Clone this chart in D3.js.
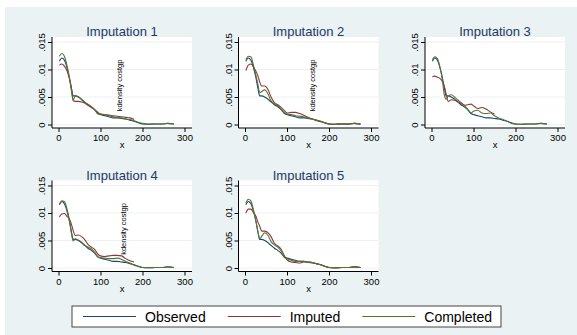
<!DOCTYPE html>
<html><head><meta charset="utf-8">
<script src="https://cdn.jsdelivr.net/npm/d3@7"></script>
<style>body{margin:0;background:#fff}svg{display:block}text{font-family:"Liberation Sans",Arial,sans-serif}</style>
</head><body><svg id="c" width="577" height="335"></svg>
<script>
const panelTitles = ["Imputation 1","Imputation 2","Imputation 3","Imputation 4","Imputation 5"];
const xTicks = [0,100,200,300];
const yTicks = [0,0.005,0.01,0.015];
const yTickLabels = ["0",".005",".01",".015"];
const seriesNames = ["Observed","Imputed","Completed"];
const seriesColors = ["#1a476f","#90353b","#55752f"];
const strayNote = "kdensity costgp";
const notePanels = [true,true,false,true,false];

const xs = [2,8,14,20,26,31,35,40,47,55,62,70,78,86,94,100,110,120,130,140,150,160,170,180,190,200,215,230,245,260,275];
const observed = [.0115,.0121,.0117,.0104,.0085,.0065,.0052,.0052,.0050,.0046,.0041,.0036,.0032,.0027,.0020,.0018,.0016,.0014,.0012,.0012,.0011,.0010,.0008,.0006,.0003,.0001,.00005,.0001,.0001,.0002,.0001];

const completed1 = [.0124,.0129,.0124,.0108,.0085,.0060,.0045,.0052,.0051,.0045,.0040,.0037,.0033,.0027,.0019,.0019,.0018,.0016,.0014,.0013,.0012,.0010,.0009,.0007,.0004,.0002,.0001,.0001,.0001,.0002,.0001];
const completed2 = [.0118,.0124,.0123,.0108,.0090,.0072,.0058,.0060,.0063,.0055,.0043,.0038,.0034,.0028,.0021,.0019,.0018,.0016,.0015,.0014,.0012,.0010,.0008,.0006,.0003,.0001,.00005,.0001,.0001,.0002,.0001];
const completed3 = [.0118,.0123,.0120,.0105,.0080,.0052,.0046,.0052,.0054,.0050,.0045,.0040,.0035,.0028,.0021,.0024,.0026,.0021,.0020,.0021,.0016,.0012,.0009,.0006,.0002,.0001,.00005,.0001,.0001,.0002,.0001];
const completed4 = [.0115,.0122,.0121,.0108,.0087,.0062,.0049,.0053,.0051,.0047,.0042,.0038,.0035,.0029,.0020,.0019,.0018,.0017,.0017,.0018,.0016,.0012,.0009,.0005,.0003,.0001,.00005,.0001,.0001,.0002,.0001];
const completed5 = [.0118,.0125,.0122,.0106,.0085,.0065,.0053,.0058,.0064,.0059,.0048,.0042,.0038,.0031,.0019,.0017,.0014,.0012,.0012,.0012,.0011,.0010,.0008,.0006,.0003,.0001,.00005,.0001,.0001,.0002,.0001];

const imputed1 = [.0108,.0110,.0106,.0098,.0083,.0065,.0043,.0042,.0042,.0041,.0039,.0035,.0031,.0027,.0022,.0019,.0018,.0017,.0016,.0015,.0014,.0013,.0012,.0009];
const imputed2 = [.0098,.0108,.0110,.0105,.0097,.0088,.0077,.0070,.0070,.0063,.0050,.0040,.0036,.0031,.0025,.0021,.0022,.0022,.0020,.0017,.0013,.0010,.0007,.0005,.0003,.0001,.00005,.0001,.0001,.0002,.0001];
const imputed3 = [.0087,.0088,.0086,.0084,.0078,.0068,.0055,.0042,.0045,.0044,.0042,.0038,.0035,.0036,.0037,.0034,.0029,.0031,.0028,.0023,.0019];
const imputed4 = [.0093,.0098,.0099,.0094,.0089,.0079,.0068,.0059,.0060,.0057,.0052,.0043,.0038,.0034,.0025,.0022,.0021,.0022,.0023,.0023,.0022,.0017,.0013,.0011];
const imputed5 = [.0100,.0107,.0107,.0101,.0094,.0083,.0076,.0067,.0067,.0064,.0057,.0045,.0040,.0034,.0022,.0015,.0011,.0010,.0009,.0011,.0010,.0009,.0008,.0006,.0003,.0001,.00002,.0001,.0001,.0002,.0001];

const completedAll = [completed1,completed2,completed3,completed4,completed5];
const imputedAll = [imputed1,imputed2,imputed3,imputed4,imputed5];

const svg = d3.select("#c");
svg.append("rect").attr("x",5).attr("y",7).attr("width",572).attr("height",328).attr("fill","#eaf2f3");

const font = "Liberation Sans, Arial, sans-serif";
panelTitles.forEach((title,i)=>{
  const col = i%3, row = Math.floor(i/3);
  const left = 52 + 186.5*col, right = left + 140;
  const top = 37 + 143.5*row, bottom = 128 + 143.5*row;
  const x = d3.scaleLinear().domain([0,300]).range([left+6.5,left+132.5]);
  const y = d3.scaleLinear().domain([0,0.015]).range([bottom-3.5,bottom-86]);
  const g = svg.append("g");
  g.append("rect").attr("x",left).attr("y",top).attr("width",right-left).attr("height",bottom-top).attr("fill","#fff");
  g.selectAll("line.grid").data(yTicks).join("line").attr("class","grid")
    .attr("x1",left).attr("x2",right).attr("y1",d=>y(d)).attr("y2",d=>y(d))
    .attr("stroke","#eaf2f3").attr("stroke-width",1);
  // series
  const line = d3.line().x((d,j)=>x(xs[j])).y(d=>y(d)).curve(d3.curveMonotoneX);
  const sets = [observed, imputedAll[i], completedAll[i]];
  sets.forEach((s,k)=>{
    g.append("path").datum(s).attr("d",line).attr("fill","none")
      .attr("stroke",seriesColors[k]).attr("stroke-width",1.1);
  });
  // axes
  const ya = g.append("g").attr("transform",`translate(${left},0)`)
    .call(d3.axisLeft(y).tickValues(yTicks).tickFormat((d,j)=>yTickLabels[j]).tickSize(4).tickSizeOuter(0));
  ya.select(".domain").remove();
  ya.selectAll("line").attr("stroke","#000");
  ya.selectAll("text").attr("x",null).attr("dy",null).attr("text-anchor","middle")
    .attr("transform","translate(-7,0) rotate(-90)").attr("font-size",9.5).attr("font-family",font).attr("fill","#000");
  const xa = g.append("g").attr("transform",`translate(0,${bottom})`)
    .call(d3.axisBottom(x).tickValues(xTicks).tickSize(4).tickSizeOuter(0));
  xa.select(".domain").remove();
  xa.selectAll("line").attr("stroke","#000");
  xa.selectAll("text").attr("y",6.5).attr("font-size",9.5).attr("font-family",font).attr("fill","#000");
  g.append("line").attr("x1",left).attr("x2",left).attr("y1",top).attr("y2",bottom).attr("stroke","#000");
  g.append("line").attr("x1",left).attr("x2",right).attr("y1",bottom).attr("y2",bottom).attr("stroke","#000");
  g.append("text").attr("x",(left+right)/2).attr("y",bottom+20).attr("text-anchor","middle")
    .attr("font-size",9.5).text("x");
  g.append("text").attr("x",(left+right)/2).attr("y",top-1).attr("text-anchor","middle")
    .attr("font-size",13).attr("fill","#1e3966").text(title);
  if(notePanels[i]){
    const nx = left + [67,73,0,71,0][i];
    const ny = (top+bottom)/2 + 3;
    g.append("text").attr("transform",`translate(${nx+3},${ny}) rotate(-90)`).attr("text-anchor","middle")
      .attr("font-size",7.5).attr("fill","#000").text(strayNote);
  }
});

// legend
const lg = svg.append("g");
const box = lg.append("rect").attr("y",306).attr("height",21).attr("fill","#fff").attr("stroke","#444").attr("stroke-width",1);
let cx = 83;
seriesNames.forEach((n,k)=>{
  lg.append("line").attr("x1",cx).attr("x2",cx+53).attr("y1",316.5).attr("y2",316.5).attr("stroke",seriesColors[k]).attr("stroke-width",1.1);
  const t = lg.append("text").attr("x",cx+62).attr("y",322).attr("font-size",14).attr("fill","#000").text(n);
  cx = cx + 62 + t.node().getComputedTextLength() + 22;
});
const rightEdge = cx - 22 + 9;
box.attr("x",72).attr("width",rightEdge-72);
</script></body></html>
